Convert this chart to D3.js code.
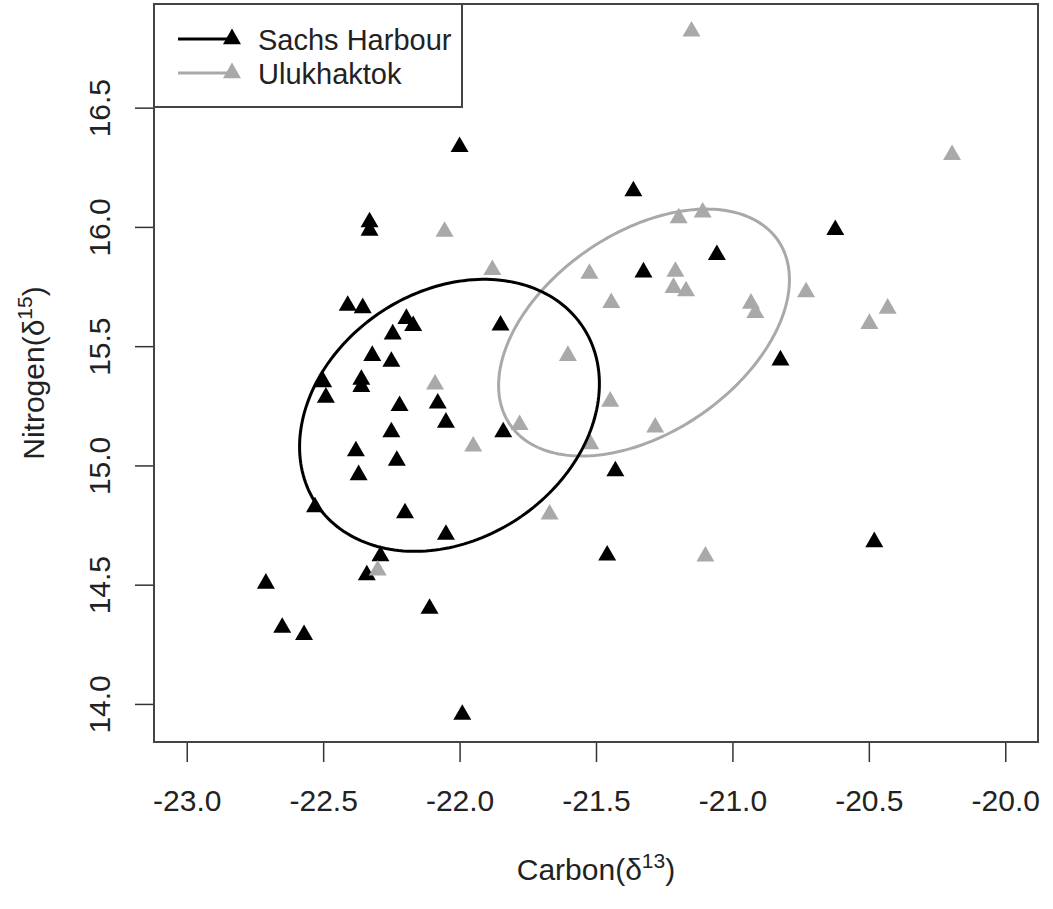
<!DOCTYPE html>
<html>
<head>
<meta charset="utf-8">
<script src="https://cdn.jsdelivr.net/npm/d3@7"></script>
<style>
  body { margin: 0; background: #fff; }
  text { font-family: "Liberation Sans", Arial, sans-serif; fill: #222; }
</style>
</head>
<body>
<div id="chart-area"></div>
<script>
var width = 1053;
var height = 909;

// Sachs Harbour points (carbon, nitrogen)
var sachsC = [-22.00, -22.33, -22.33, -22.41, -22.355, -22.195, -22.17, -22.245, -22.32, -22.25,
              -22.50, -22.49, -22.36, -22.36, -22.22, -22.08, -22.05, -22.25, -22.38, -22.23,
              -22.37, -22.53, -22.20, -22.05, -22.29, -22.34, -22.71, -22.11, -22.65, -22.57,
              -21.99, -21.85, -21.363, -21.326, -21.057, -20.623, -20.824, -21.429, -20.48, -21.459,
              -21.84];
var sachsN = [16.336, 16.02, 15.985, 15.67, 15.66, 15.615, 15.585, 15.55, 15.46, 15.435,
              15.35, 15.285, 15.36, 15.33, 15.25, 15.26, 15.18, 15.14, 15.06, 15.02,
              14.96, 14.825, 14.80, 14.71, 14.62, 14.54, 14.505, 14.40, 14.32, 14.29,
              13.955, 15.587, 16.15, 15.81, 15.883, 15.988, 15.441, 14.976, 14.679, 14.623,
              15.14];

// Ulukhaktok points
var ulukC = [-21.15, -20.195, -22.055, -21.88, -21.524, -21.209, -21.216, -21.17, -21.444, -20.73,
             -20.932, -20.916, -20.431, -20.498, -21.603, -22.09, -21.448, -21.78, -21.95, -21.283,
             -21.521, -21.67, -22.30, -21.099, -21.197, -21.109];
var ulukN = [16.82, 16.302, 15.98, 15.82, 15.804, 15.813, 15.745, 15.731, 15.682, 15.727,
             15.679, 15.64, 15.658, 15.594, 15.46, 15.34, 15.268, 15.17, 15.08, 15.16,
             15.09, 14.795, 14.56, 14.619, 16.037, 16.061];

// ellipses: centre and covariance (carbon, nitrogen)
var sachsEllipse = [-22.037, 15.21, 0.3019, 0.3252, 0.0725];
var ulukEllipse = [-21.324, 15.557, 0.2841, 0.2680, 0.1182];

var xTicks = [-23.0, -22.5, -22.0, -21.5, -21.0, -20.5, -20.0];
var yTicks = [14.0, 14.5, 15.0, 15.5, 16.0, 16.5];
var seriesNames = ["Sachs Harbour", "Ulukhaktok"];
var seriesColors = ["#000000", "#a9a9a9"];

var svg = d3.select("#chart-area").append("svg")
    .attr("width", width)
    .attr("height", height);

svg.append("rect")
    .attr("width", width)
    .attr("height", height)
    .attr("fill", "white");

var plotLeft = 154, plotRight = 1038, plotTop = 4, plotBottom = 742;

// R style 4% padding
var xPad = (-20 - -23) * 0.04;
var allN = sachsN.concat(ulukN);
var yExt = d3.extent(allN);
var yPad = (yExt[1] - yExt[0]) * 0.04;

var scaleX = d3.scaleLinear()
    .domain([-23 - xPad, -20 + xPad])
    .range([plotLeft, plotRight]);

var scaleY = d3.scaleLinear()
    .domain([yExt[0] - yPad, yExt[1] + yPad])
    .range([plotBottom, plotTop]);

// axes
var x_axis = d3.axisBottom(scaleX)
    .tickValues(xTicks)
    .tickSize(20)
    .tickPadding(28)
    .tickFormat(function(d){ return d.toFixed(1); });

var gx = svg.append("g")
    .attr("transform", "translate(0," + plotBottom + ")")
    .call(x_axis);
gx.select(".domain").remove();
gx.selectAll("line").attr("stroke", "#333").attr("stroke-width", 1.5);
gx.selectAll("text")
    .attr("font-size", 30)
    .attr("fill", "#222");

var y_axis = d3.axisLeft(scaleY)
    .tickValues(yTicks)
    .tickSize(19)
    .tickFormat(function(d){ return d.toFixed(1); });

var gy = svg.append("g")
    .attr("transform", "translate(" + plotLeft + ",0)")
    .call(y_axis);
gy.select(".domain").remove();
gy.selectAll("line").attr("stroke", "#333").attr("stroke-width", 1.5);
gy.selectAll("text")
    .attr("x", null)
    .attr("dy", null)
    .attr("font-size", 30)
    .attr("fill", "#222")
    .attr("text-anchor", "middle")
    .attr("transform", "translate(-44,0) rotate(-90)");

// plot box
svg.append("rect")
    .attr("x", plotLeft)
    .attr("y", plotTop)
    .attr("width", plotRight - plotLeft)
    .attr("height", plotBottom - plotTop)
    .attr("fill", "none")
    .attr("stroke", "#444")
    .attr("stroke-width", 2);

// axis labels
var xl = svg.append("text")
    .attr("x", (plotLeft + plotRight) / 2)
    .attr("y", 880)
    .attr("text-anchor", "middle")
    .attr("font-size", 30);
xl.append("tspan").text("Carbon(\u03b4");
xl.append("tspan").attr("dy", -12).attr("font-size", 21).text("13");
xl.append("tspan").attr("dy", 12).text(")");

var yl = svg.append("text")
    .attr("transform", "translate(44," + ((plotTop + plotBottom) / 2) + ") rotate(-90)")
    .attr("text-anchor", "middle")
    .attr("font-size", 30);
yl.append("tspan").text("Nitrogen(\u03b4");
yl.append("tspan").attr("dy", -12).attr("font-size", 21).text("15");
yl.append("tspan").attr("dy", 12).text(")");

// points
var tri = d3.symbol().type(d3.symbolTriangle).size(140);

var sachs = sachsC.map(function(c, i){ return {c: c, n: sachsN[i]}; });
var uluk = ulukC.map(function(c, i){ return {c: c, n: ulukN[i]}; });

svg.selectAll(".sachs")
    .data(sachs)
    .enter()
    .append("path")
    .attr("class", "sachs")
    .attr("d", tri)
    .attr("fill", seriesColors[0])
    .attr("transform", function(d){ return "translate(" + scaleX(d.c) + "," + scaleY(d.n) + ")"; });

svg.selectAll(".uluk")
    .data(uluk)
    .enter()
    .append("path")
    .attr("class", "uluk")
    .attr("d", tri)
    .attr("fill", seriesColors[1])
    .attr("transform", function(d){ return "translate(" + scaleX(d.c) + "," + scaleY(d.n) + ")"; });

// ellipses
function ellipsePoints(e)
{
    var l11 = Math.sqrt(e[2]);
    var l21 = e[4] / l11;
    var l22 = Math.sqrt(e[3] - l21 * l21);
    var pts = [];
    for (var i = 0; i < 200; i++)
    {
        var t = i / 200 * 2 * Math.PI;
        pts.push([scaleX(e[0] + l11 * Math.cos(t)),
                  scaleY(e[1] + l21 * Math.cos(t) + l22 * Math.sin(t))]);
    }
    return pts;
}

var line = d3.line().curve(d3.curveLinearClosed);

svg.append("path")
    .attr("d", line(ellipsePoints(ulukEllipse)))
    .attr("fill", "none")
    .attr("stroke", seriesColors[1])
    .attr("stroke-width", 3);

svg.append("path")
    .attr("d", line(ellipsePoints(sachsEllipse)))
    .attr("fill", "none")
    .attr("stroke", seriesColors[0])
    .attr("stroke-width", 3);

// legend
var lg = svg.append("g");
lg.append("rect")
    .attr("x", plotLeft)
    .attr("y", plotTop)
    .attr("width", 308)
    .attr("height", 103)
    .attr("fill", "white")
    .attr("stroke", "#444")
    .attr("stroke-width", 2);

seriesNames.forEach(function(name, i){
    var yy = 39 + i * 34;
    lg.append("line")
        .attr("x1", 178).attr("x2", 236)
        .attr("y1", yy).attr("y2", yy)
        .attr("stroke", seriesColors[i])
        .attr("stroke-width", 3);
    lg.append("path")
        .attr("d", tri)
        .attr("fill", seriesColors[i])
        .attr("transform", "translate(232," + yy + ")");
    lg.append("text")
        .attr("x", 258)
        .attr("y", yy + 11)
        .attr("font-size", 29)
        .text(name);
});
</script>
</body>
</html>
